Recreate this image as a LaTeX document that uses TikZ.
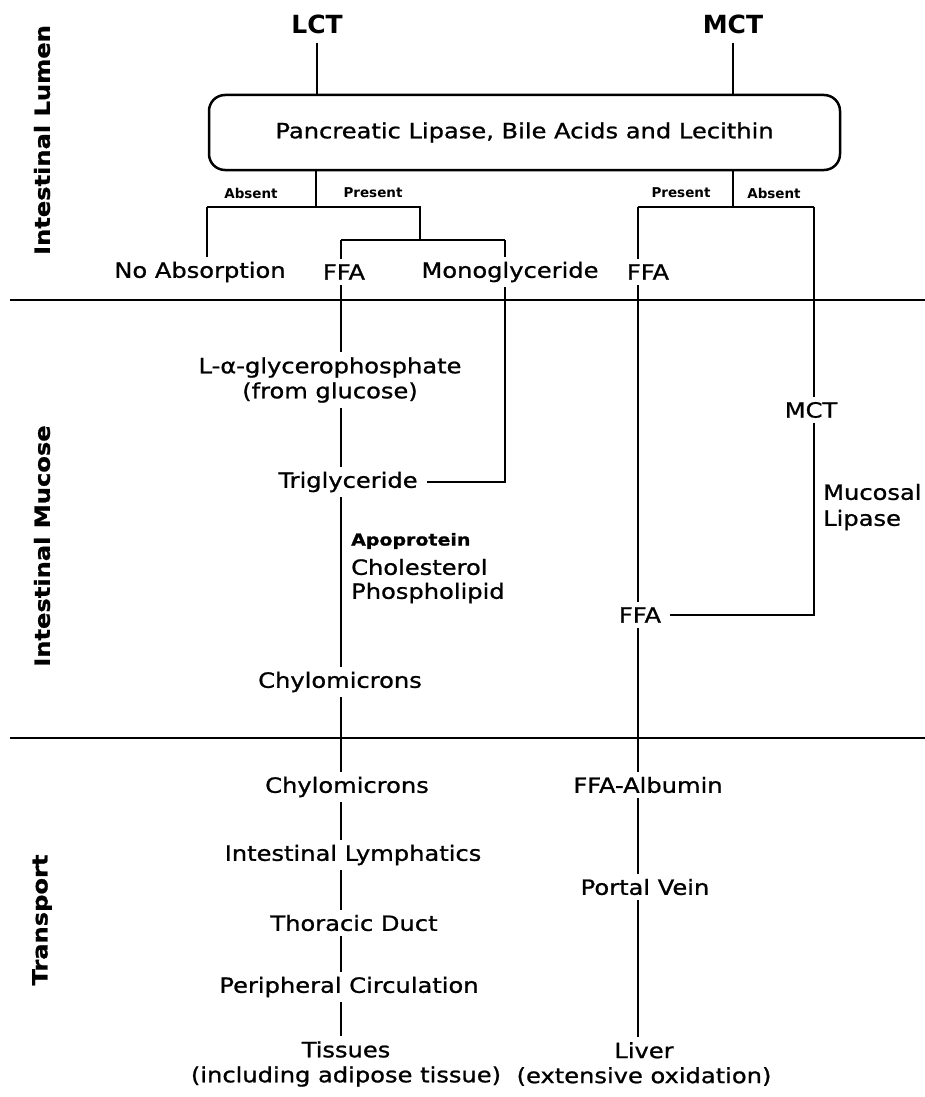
\documentclass[tikz,border=0pt]{standalone}
\usepackage{fontspec}
\setmainfont[FakeStretch=1.15,FakeBold=1]{DejaVu Sans}
\newfontfamily\plainsans{DejaVu Sans}
\begin{document}
\begin{tikzpicture}[x=1pt,y=-1pt,
  txt/.style={inner sep=5pt, font=\fontsize{21}{25}\selectfont, align=center},
  big/.style={inner sep=9pt, font=\plainsans\bfseries\fontsize{25}{28}\selectfont},
  lbl/.style={inner sep=1pt, font=\plainsans\bfseries\fontsize{13.5}{15}\selectfont},
  small/.style={inner sep=0pt, anchor=west, font=\bfseries\fontsize{16.5}{18}\selectfont},
  side/.style={inner sep=0pt, anchor=west, font=\fontsize{21}{25}\selectfont},
  sec/.style={rotate=90, inner sep=0pt, font=\bfseries\fontsize{21}{24}\selectfont},
  enzbox/.style={draw, line width=2.5pt, rounded corners=16pt, minimum width=631pt, minimum height=75pt, txt},
  ln/.style={line width=1.8pt},
  divider/.style={line width=2pt}]
\useasboundingbox (0,0) rectangle (925,1097);

% section labels
\node[sec] (lumen) at (42,140) {Intestinal Lumen};
\node[sec] (mucose) at (42,546) {Intestinal Mucose};
\node[sec] (transp) at (42,920) {Transport};

% dividers
\coordinate (d1a) at (10,300); \coordinate (d1b) at (925,300);
\coordinate (d2a) at (10,738); \coordinate (d2b) at (925,738);
\draw[divider] (d1a) -- (d1b);
\draw[divider] (d2a) -- (d2b);

% top
\node[big] (lct) at (317,24) {LCT};
\node[big] (mct) at (733,24) {MCT};
\node[enzbox] (enz) at (524.5,132.5) {Pancreatic Lipase, Bile Acids and Lecithin};
\draw[ln] (lct) -- (lct |- enz.north);
\draw[ln] (mct) -- (mct |- enz.north);

% branch labels
\node[lbl] (absL) at (251,193) {Absent};
\node[lbl] (preL) at (373,193) {Present};
\node[lbl] (preR) at (681,193) {Present};
\node[lbl] (absR) at (774,193) {Absent};

% lumen products
\node[txt] (noabs) at (200,272) {No Absorption};
\node[txt] (ffaL) at (344,272) {FFA};
\node[txt] (mono) at (510,272) {Monoglyceride};
\node[txt] (ffaR) at (648,272) {FFA};

% LCT junctions
\coordinate (jL) at (316,207);
\coordinate (aL) at (207,207);
\coordinate (pL) at (420,207);
\coordinate (sL) at (420,240);
\coordinate (fL) at (341,240);
\coordinate (mL) at (505,240);
\draw[ln] (enz.south -| jL) -- (jL);
\draw[ln] (aL) -- (pL) -- (sL);
\draw[ln] (fL) -- (mL);
\draw[ln] (aL) -- (aL |- noabs.north);
\draw[ln] (fL) -- (fL |- ffaL.north);
\draw[ln] (mL) -- (mL |- mono.north);

% MCT junctions
\coordinate (jR) at (733,207);
\coordinate (pR) at (638,207);
\coordinate (aR) at (814,207);
\draw[ln] (enz.south -| jR) -- (jR);
\draw[ln] (pR) -- (aR);
\draw[ln] (pR) -- (pR |- ffaR.north);

% mucosa, LCT side
\node[txt] (glyc) at (330,380) {L-α-glycerophosphate\\(from glucose)};
\node[txt] (trig) at (348,482) {Triglyceride};
\node[small] (apo) at (351,541) {Apoprotein};
\node[side] (chol) at (351,567) {Cholesterol};
\node[side] (phos) at (351,593) {Phospholipid};
\node[txt] (chyM) at (340,682) {Chylomicrons};

\draw[ln] (ffaL.south -| fL) -- (glyc.north -| fL);
\draw[ln] (glyc.south -| fL) -- (trig.north -| fL);
\draw[ln] (mono.south -| mL) |- ([xshift=4pt]trig.east);
\draw[ln] (trig.south -| fL) -- (chyM.north -| fL);

% mucosa, MCT side
\node[txt] (mctM) at (811,410) {MCT};
\node[side] (muc1) at (823,492) {Mucosal};
\node[side] (muc2) at (823,520) {Lipase};
\node[txt] (ffaM) at (640,615) {FFA};
\draw[ln] (aR) -- (aR |- mctM.north);
\draw[ln] (mctM.south -| aR) |- ([xshift=4pt]ffaM.east);
\draw[ln] (ffaR.south -| pR) -- (ffaM.north -| pR);

% transport, LCT side
\node[txt] (chyT) at (347,787) {Chylomicrons};
\node[txt] (lymph) at (353,855) {Intestinal Lymphatics};
\node[txt] (thor) at (354,923) {Thoracic Duct};
\node[txt] (peri) at (349,987) {Peripheral Circulation};
\node[txt] (tiss) at (346,1064) {Tissues\\(including adipose tissue)};
\draw[ln] (chyM.south -| fL) -- (chyT.north -| fL);
\draw[ln] (chyT.south -| fL) -- (lymph.north -| fL);
\draw[ln] (lymph.south -| fL) -- (thor.north -| fL);
\draw[ln] (thor.south -| fL) -- (peri.north -| fL);
\draw[ln] (peri.south -| fL) -- (tiss.north -| fL);

% transport, MCT side
\node[txt] (alb) at (648,785) {FFA-Albumin};
\node[txt] (portal) at (645,887) {Portal Vein};
\node[txt] (liver) at (644,1064) {Liver\\(extensive oxidation)};
\draw[ln] (ffaM.south -| pR) -- (alb.north -| pR);
\draw[ln] (alb.south -| pR) -- (portal.north -| pR);
\draw[ln] (portal.south -| pR) -- (liver.north -| pR);
\end{tikzpicture}
\end{document}
